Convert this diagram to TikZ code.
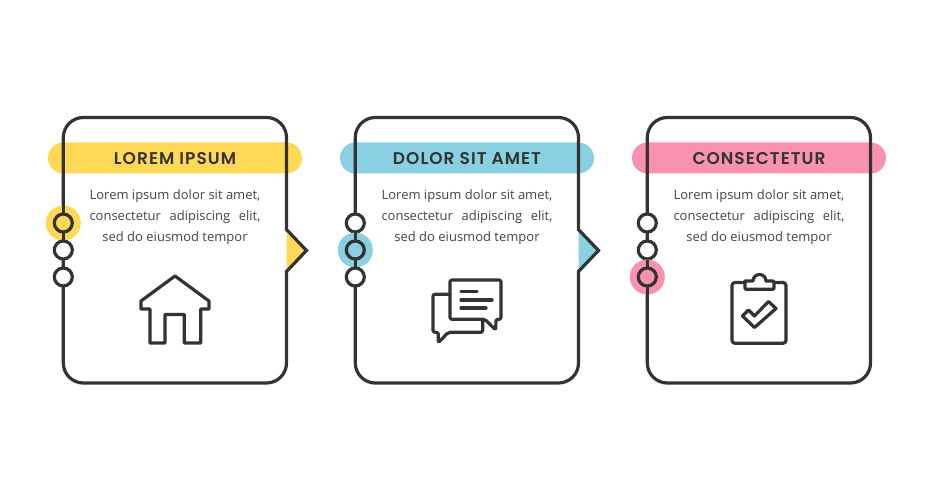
\documentclass[tikz,border=0pt]{standalone}
\usepackage{fontspec}
\setmainfont{Open Sans}
\newfontfamily\titlefont[LetterSpace=6]{Poppins SemiBold}
\definecolor{cardyellow}{HTML}{FFD955}
\definecolor{cardblue}{HTML}{89D1E2}
\definecolor{cardpink}{HTML}{F992AE}
\definecolor{cardline}{HTML}{333333}
\definecolor{cardtext}{HTML}{444444}
\tikzset{
  cardframe/.style={draw=cardline,line width=3.2pt,line join=miter},
  cardicon/.style={draw=cardline,line width=3.2pt,line join=round,line cap=round},
  titleband/.style={minimum width=254pt,minimum height=31pt,inner sep=0pt,outer sep=0pt,rounded corners=15.5pt,
    text=cardline,font=\titlefont\fontsize{17}{18}\selectfont},
  cardbody/.style={align=center,text=cardtext,inner sep=0pt,font=\fontsize{13}{21}\selectfont},
  stepdot/.style={circle,draw=cardline,line width=3.2pt,fill=white,minimum size=18pt,inner sep=0pt,outer sep=0pt},
  stepglow/.style={circle,minimum size=35pt,inner sep=0pt,outer sep=0pt},
}
\newcommand{\bodylines}{Lorem ipsum dolor sit amet,\\
  \makebox[171pt][s]{consectetur\hfil adipiscing\hfil elit,}\\
  sed do eiusmod tempor}
\begin{document}
\begin{tikzpicture}[x=1pt,y=-1pt]
\useasboundingbox (0,0) rectangle (938,500);
% the three cards
\foreach \n/\dx/\col/\ttl/\act in {1/0/cardyellow/LOREM IPSUM/1,2/292/cardblue/DOLOR SIT AMET/2,3/584/cardpink/CONSECTETUR/3}{
  \begin{scope}[xshift=\dx pt]
    \ifnum\n<3
      \fill[\col] (286.5,229.5) -- (306.5,250.5) -- (286.5,271.5) -- cycle;
      \node[titleband,fill=\col] (band\n) at (175,158) {};
      \draw[cardframe,rounded corners=20pt] (63.3,250) -- (63.3,117.5) -- (286.5,117.5) -- (286.5,200)
        [sharp corners] -- (286.5,229.5) -- (306.5,250.5) -- (286.5,271.5) -- (286.5,300)
        [rounded corners=20pt] -- (286.5,383) -- (63.3,383) -- cycle;
    \else
      \node[titleband,fill=\col] (band\n) at (175,158) {};
      \draw[cardframe,rounded corners=20pt] (63.3,250) -- (63.3,117.5) -- (286.5,117.5) -- (286.5,383) -- (63.3,383) -- cycle;
    \fi
    \node[titleband] (title\n) at (175,158.5) {\ttl};
    \node[cardbody] (body\n) at (175,217) {\bodylines};
    \foreach \k/\yy in {1/223,2/250,3/277}{
      \ifnum\k=\act
        \node[stepglow,fill=\col] (glow\n) at (63.3,\yy) {};
        \draw[cardframe] (63.3,\yy-17.5) -- (63.3,\yy+17.5);
        \node[stepdot,fill=\col] (dot\n\k) at (63.3,\yy) {};
      \else
        \node[stepdot] (dot\n\k) at (63.3,\yy) {};
      \fi
    }
  \end{scope}
}
% house
\draw[cardicon] (175,276) -- (209,301) -- (209,309) -- (200.7,309) -- (200.7,343) -- (184.3,343)
  -- (184.3,314.5) -- (165,314.5) -- (165,343) -- (150,343) -- (150,309) -- (141,309) -- (141,301) -- cycle;
% speech bubbles
\draw[cardicon,rounded corners=2pt] (450,280) -- (501,280) -- (501,319.3) -- (496,319.3) -- (495.7,330)
  -- (485,319.3) -- (450,319.3) -- cycle;
\draw[cardicon,rounded corners=2pt] (450,294.3) -- (433,294.3) -- (433,332.3) -- (438.3,332.3) -- (438.3,342.7)
  -- (448.3,332.3) -- (482.7,332.3) -- (482.7,319.3);
\draw[cardicon] (461,291.3) -- (477,291.3) (461,300) -- (492,300) (461,308) -- (486,308);
% clipboard
\draw[cardicon,rounded corners=3pt] (745,282.5) -- (732,282.5) -- (732,343.3) -- (786,343.3) -- (786,282.5) -- (774,282.5);
\draw[cardicon,rounded corners=1pt] (745,281) -- (745,289.3) -- (774,289.3) -- (774,281) -- (766,281);
\draw[cardicon] (766,281) arc[start angle=0,end angle=-180,radius=6.5] -- (745,281);
\draw[cardicon] (742.5,316) -- (748.5,310) -- (754.5,316) -- (768.5,301.5) -- (776,308.5) -- (754.5,327.5) -- cycle;
\end{tikzpicture}
\end{document}
